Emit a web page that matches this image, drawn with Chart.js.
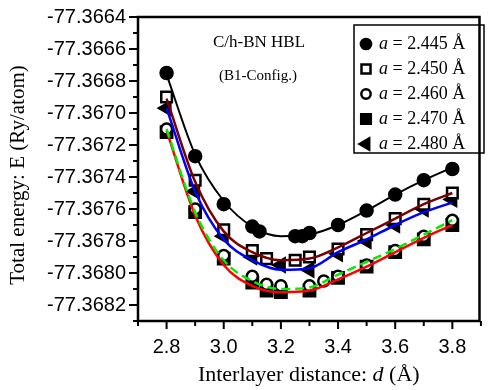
<!DOCTYPE html>
<html>
<head>
<meta charset="utf-8">
<script src="https://cdn.jsdelivr.net/npm/chart.js@4.4.1/dist/chart.umd.min.js"></script>
<style>
  html, body { margin: 0; padding: 0; background: #fff; }
  #wrap { width: 490px; height: 390px; }
</style>
</head>
<body>
<div id="wrap"><canvas id="energyChart" width="490" height="390"></canvas></div>
<script>
// lattice constants a (Å)
var latticeA = ['2.445', '2.450', '2.460', '2.470', '2.480'];

// calculated points: interlayer distance d (Å) and total energy E (Ry/atom)
var d2445 = [2.8, 2.9, 3.0, 3.1, 3.125, 3.25, 3.275, 3.3, 3.4, 3.5, 3.6, 3.7, 3.8];
var e2445 = [-77.36675, -77.36727, -77.36757, -77.36771, -77.36774, -77.36777, -77.36777, -77.36775, -77.36770, -77.36761, -77.36751, -77.36742, -77.36735];

var d2450 = [2.8, 2.9, 3.0, 3.1, 3.15, 3.25, 3.3, 3.4, 3.5, 3.6, 3.7, 3.8];
var e2450 = [-77.36690, -77.36742, -77.36773, -77.36786, -77.36791, -77.36792, -77.36790, -77.36785, -77.36776, -77.36766, -77.36757, -77.36750];

var d2460 = [2.8, 2.9, 3.0, 3.1, 3.15, 3.2, 3.3, 3.35, 3.4, 3.5, 3.6, 3.7, 3.8];
var e2460 = [-77.36710, -77.36760, -77.36789, -77.36802, -77.36807, -77.36808, -77.36808, -77.36805, -77.36802, -77.36795, -77.36786, -77.36777, -77.36767];

var d2470 = [2.8, 2.9, 3.0, 3.1, 3.15, 3.2, 3.3, 3.4, 3.5, 3.6, 3.7, 3.8];
var e2470 = [-77.36712, -77.36762, -77.36791, -77.36806, -77.36811, -77.36812, -77.36811, -77.36803, -77.36796, -77.36787, -77.36779, -77.36770];

var d2480 = [2.8, 2.9, 3.0, 3.1, 3.2, 3.3, 3.4, 3.5, 3.6, 3.7, 3.8];
var e2480 = [-77.36697, -77.36749, -77.36777, -77.36790, -77.36795, -77.36798, -77.36788, -77.36780, -77.36770, -77.36760, -77.36754];

// fitted curves, sampled every 0.1 Å
var fitD = [2.8, 2.9, 3.0, 3.1, 3.2, 3.3, 3.4, 3.5, 3.6, 3.7, 3.8];
var fit2445 = [-77.36676, -77.36726, -77.36755, -77.36771, -77.36777, -77.36776, -77.36770, -77.36761, -77.36751, -77.36742, -77.36734];
var fit2450 = [-77.36691, -77.36743, -77.36774, -77.36787, -77.36792, -77.36791, -77.36784, -77.36775, -77.36766, -77.36757, -77.36750];
var fit2460 = [-77.36710, -77.36762, -77.36792, -77.36805, -77.36810, -77.36809, -77.36801, -77.36793, -77.36785, -77.36776, -77.36767];
var fit2470 = [-77.36711, -77.36764, -77.36795, -77.36808, -77.36812, -77.36811, -77.36804, -77.36796, -77.36787, -77.36778, -77.36770];
var fit2480 = [-77.36697, -77.36749, -77.36779, -77.36792, -77.36798, -77.36797, -77.36787, -77.36779, -77.36770, -77.36762, -77.36756];

// axis ticks
var xTicks = [2.8, 3.0, 3.2, 3.4, 3.6, 3.8];
var xMinor = [2.7, 2.9, 3.1, 3.3, 3.5, 3.7, 3.9];
var yTicks = [-77.3664, -77.3666, -77.3668, -77.3670, -77.3672, -77.3674, -77.3676, -77.3678, -77.3680, -77.3682];
var yMinor = [-77.3665, -77.3667, -77.3669, -77.3671, -77.3673, -77.3675, -77.3677, -77.3679, -77.3681, -77.3683];

var pointsD = [d2445, d2450, d2460, d2470, d2480];
var pointsE = [e2445, e2450, e2460, e2470, e2480];
var fits = [fit2445, fit2450, fit2460, fit2470, fit2480];

// marker + curve look for each a
var looks = [
  { pointStyle: 'circle', radius: 6, fill: '#000', rotation: 0, line: '#000000', dash: [], lw: 2 },
  { pointStyle: 'rect', radius: 7.5, fill: '#fff', rotation: 0, line: '#7a0000', dash: [], lw: 2.5 },
  { pointStyle: 'circle', radius: 5.5, fill: '#fff', rotation: 0, line: '#00ee00', dash: [9, 5], lw: 2.5 },
  { pointStyle: 'rect', radius: 8, fill: '#000', rotation: 0, line: '#ff0000', dash: [], lw: 2.5 },
  { pointStyle: 'triangle', radius: 7.5, fill: '#000', rotation: -90, line: '#0000ff', dash: [], lw: 2.5 }
];

var SERIF = '"Liberation Serif", "Times New Roman", serif';
var SANS = '"Liberation Sans", Arial, sans-serif';

function xy(xs, ys) {
  return xs.map(function(x, i) { return { x: x, y: ys[i] }; });
}

var datasets = [];
latticeA.forEach(function(a, i) {
  var lk = looks[i];
  datasets.push({
    label: 'a = ' + a + ' Å',
    data: xy(pointsD[i], pointsE[i]),
    showLine: false,
    pointStyle: lk.pointStyle,
    pointRadius: lk.radius,
    pointRotation: lk.rotation,
    pointBackgroundColor: lk.fill,
    pointBorderColor: '#000',
    pointBorderWidth: 2.5,
    order: 1
  });
  datasets.push({
    label: 'fit ' + a,
    data: xy(fitD, fits[i]),
    showLine: true,
    borderColor: lk.line,
    borderWidth: lk.lw,
    borderDash: lk.dash,
    cubicInterpolationMode: 'monotone',
    pointRadius: 0,
    fill: false,
    order: 0
  });
});

// box frame and outward tick marks
var frameTicks = {
  id: 'frameTicks',
  afterDraw: function(chart) {
    var ctx = chart.ctx, ar = chart.chartArea;
    var sx = chart.scales.x, sy = chart.scales.y;
    ctx.save();
    ctx.strokeStyle = '#000';
    ctx.lineWidth = 2;
    ctx.beginPath();
    xTicks.forEach(function(v) { var p = sx.getPixelForValue(v); ctx.moveTo(p, ar.bottom); ctx.lineTo(p, ar.bottom + 8); });
    xMinor.forEach(function(v) { var p = sx.getPixelForValue(v); ctx.moveTo(p, ar.bottom); ctx.lineTo(p, ar.bottom + 5); });
    yTicks.forEach(function(v) { var p = sy.getPixelForValue(v); ctx.moveTo(ar.left, p); ctx.lineTo(ar.left - 9, p); });
    yMinor.forEach(function(v) { var p = sy.getPixelForValue(v); ctx.moveTo(ar.left, p); ctx.lineTo(ar.left - 5, p); });
    ctx.stroke();
    ctx.lineWidth = 2.5;
    ctx.strokeRect(ar.left, ar.top, ar.right - ar.left, ar.bottom - ar.top);
    ctx.restore();
  }
};

// axis titles, inline labels and the boxed legend
var labelsLegend = {
  id: 'labelsLegend',
  afterDraw: function(chart) {
    var ctx = chart.ctx, ar = chart.chartArea;
    ctx.save();
    ctx.fillStyle = '#000';
    ctx.textBaseline = 'middle';

    // y title
    ctx.save();
    ctx.translate(18, (ar.top + ar.bottom) / 2 + 6);
    ctx.rotate(-Math.PI / 2);
    ctx.textAlign = 'center';
    ctx.font = '21px ' + SERIF;
    ctx.fillText('Total energy: E (Ry/atom)', 0, 0);
    ctx.restore();

    // x title with italic d
    var parts = [['Interlayer distance: ', ''], ['d', 'italic '], [' (Å)', '']];
    var total = 0;
    parts.forEach(function(p) { ctx.font = p[1] + '22px ' + SERIF; total += ctx.measureText(p[0]).width; });
    var x0 = (ar.left + ar.right) / 2 - total / 2;
    ctx.textAlign = 'left';
    parts.forEach(function(p) {
      ctx.font = p[1] + '22px ' + SERIF;
      ctx.fillText(p[0], x0, 375);
      x0 += ctx.measureText(p[0]).width;
    });

    // system label
    ctx.textAlign = 'center';
    ctx.font = '17px ' + SERIF;
    ctx.fillText('C/h-BN HBL', 259, 43);
    ctx.font = '15px ' + SERIF;
    ctx.fillText('(B1-Config.)', 258, 76);

    // legend box
    var bx = 354, by = 25, bw = 130, bh = 128;
    ctx.lineWidth = 1.5;
    ctx.strokeStyle = '#000';
    ctx.strokeRect(bx, by, bw, bh);
    ctx.textAlign = 'left';
    latticeA.forEach(function(a, i) {
      var lk = looks[i];
      var cy = 44 + i * 25;
      ctx.fillStyle = lk.fill;
      ctx.strokeStyle = '#000';
      ctx.lineWidth = 2.5;
      Chart.helpers.drawPoint(ctx, {
        pointStyle: lk.pointStyle,
        radius: lk.radius * 0.85,
        rotation: lk.rotation,
        borderWidth: 2.5
      }, 366, cy);
      ctx.fillStyle = '#000';
      var tx = 379;
      ctx.font = 'italic 18px ' + SERIF;
      ctx.fillText('a', tx, cy);
      tx += ctx.measureText('a').width;
      ctx.font = '18px ' + SERIF;
      ctx.fillText(' = ' + a + ' Å', tx, cy);
    });
    ctx.restore();
  }
};

new Chart(document.getElementById('energyChart'), {
  type: 'scatter',
  data: { datasets: datasets },
  options: {
    responsive: false,
    animation: false,
    layout: { padding: { top: 17, right: 1, bottom: 0, left: 0 } },
    plugins: {
      legend: { display: false },
      tooltip: { enabled: false }
    },
    scales: {
      x: {
        type: 'linear',
        min: 2.7,
        max: 3.895,
        grid: { display: false, drawTicks: false },
        border: { display: false },
        afterBuildTicks: function(scale) { scale.ticks = xTicks.map(function(v) { return { value: v }; }); },
        afterFit: function(scale) { scale.height = 69; scale.paddingLeft = 0; scale.paddingRight = 0; },
        ticks: {
          padding: 14,
          color: '#000',
          font: { family: SANS, size: 20 },
          callback: function(v) { return v.toFixed(1); }
        }
      },
      y: {
        type: 'linear',
        min: -77.3683,
        max: -77.3664,
        grid: { display: false, drawTicks: false },
        border: { display: false },
        afterBuildTicks: function(scale) { scale.ticks = yTicks.map(function(v) { return { value: v }; }); },
        afterFit: function(scale) { scale.width = 138; scale.paddingTop = 0; scale.paddingBottom = 0; },
        ticks: {
          padding: 12,
          color: '#000',
          font: { family: SANS, size: 20 },
          callback: function(v) { return v.toFixed(4); }
        }
      }
    }
  },
  plugins: [frameTicks, labelsLegend]
});
</script>
</body>
</html>
